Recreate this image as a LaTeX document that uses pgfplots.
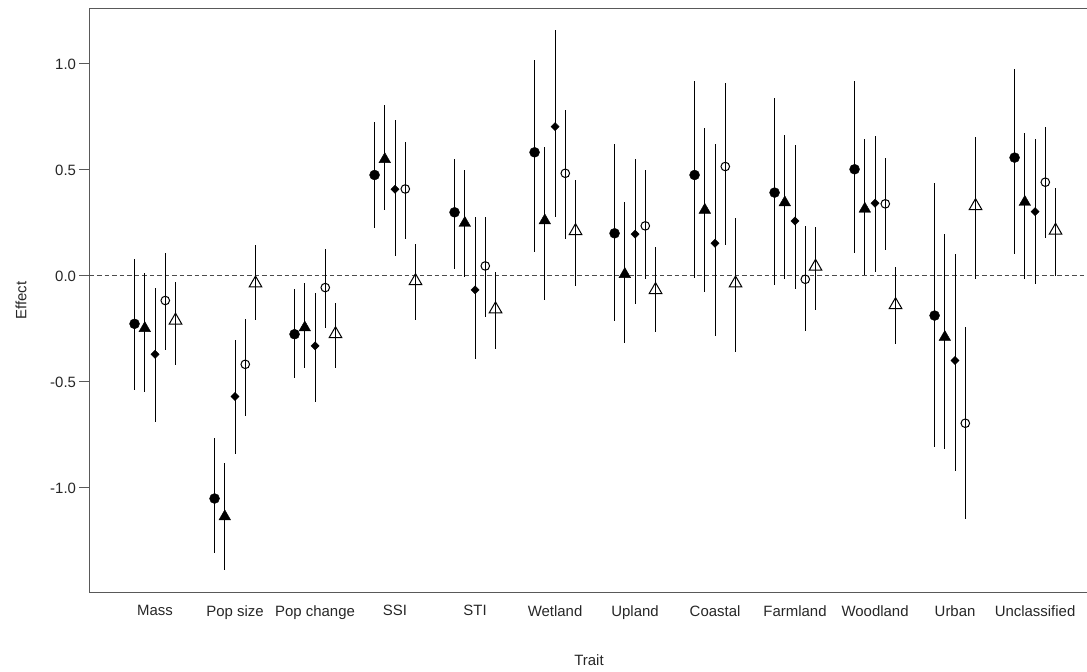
\documentclass[border=0pt]{standalone}
\usepackage{pgfplots}
\pgfplotsset{compat=1.18}
\usepackage{pgfplotstable}
\usepackage{fontspec}
\setmainfont{Liberation Sans}

% cat  y  lo  hi
\pgfplotstableread{
cat y lo hi
1 -0.226 -0.538 0.080
2 -1.050 -1.308 -0.763
3 -0.275 -0.483 -0.061
4 0.476 0.225 0.725
5 0.300 0.031 0.550
6 0.583 0.112 1.019
7 0.201 -0.215 0.623
8 0.476 -0.011 0.920
9 0.393 -0.042 0.838
10 0.503 0.107 0.920
11 -0.187 -0.805 0.437
12 0.558 0.102 0.975
}\sA
\pgfplotstableread{
cat y lo hi
1 -0.247 -0.546 0.013
2 -1.135 -1.387 -0.884
3 -0.244 -0.436 -0.035
4 0.550 0.311 0.807
5 0.249 -0.003 0.500
6 0.261 -0.113 0.610
7 0.008 -0.318 0.350
8 0.311 -0.074 0.697
9 0.346 -0.016 0.665
10 0.316 0.005 0.645
11 -0.289 -0.815 0.198
12 0.348 -0.016 0.673
}\sB
\pgfplotstableread{
cat y lo hi
1 -0.370 -0.690 -0.055
2 -0.569 -0.840 -0.302
3 -0.330 -0.596 -0.079
4 0.409 0.096 0.736
5 -0.066 -0.393 0.277
6 0.704 0.277 1.160
7 0.197 -0.132 0.550
8 0.154 -0.283 0.623
9 0.259 -0.063 0.618
10 0.343 0.020 0.660
11 -0.399 -0.918 0.104
12 0.303 -0.039 0.648
}\sC
\pgfplotstableread{
cat y lo hi
1 -0.116 -0.349 0.107
2 -0.417 -0.659 -0.203
3 -0.055 -0.244 0.126
4 0.410 0.175 0.630
5 0.047 -0.192 0.280
6 0.484 0.173 0.783
7 0.236 -0.015 0.500
8 0.516 0.146 0.909
9 -0.016 -0.259 0.237
10 0.340 0.123 0.558
11 -0.695 -1.146 -0.242
12 0.442 0.181 0.703
}\sD
\pgfplotstableread{
cat y lo hi
1 -0.210 -0.420 -0.030
2 -0.035 -0.210 0.146
3 -0.274 -0.436 -0.126
4 -0.024 -0.210 0.150
5 -0.157 -0.346 0.017
6 0.212 -0.047 0.453
7 -0.066 -0.263 0.138
8 -0.035 -0.357 0.272
9 0.044 -0.160 0.233
10 -0.137 -0.322 0.041
11 0.330 -0.016 0.657
12 0.214 0.000 0.414
}\sE

\begin{document}
\begin{tikzpicture}
\begin{axis}[
  scale only axis, width=999bp, height=583bp,
  xmin=0.181, xmax=12.668, ymin=-1.491, ymax=1.259,
  axis line style={color=black!65, line width=1bp},
  xtick={1,...,12},
  xticklabels={Mass,Pop size,Pop change,SSI,STI,Wetland,Upland,Coastal,Farmland,Woodland,Urban,Unclassified},
  x tick style={draw=none},
  ytick={-1,-0.5,0,0.5,1},
  yticklabel style={/pgf/number format/.cd, fixed, fixed zerofill, precision=1, assume math mode=true},
  ytick pos=left, tick align=outside, major tick length=10bp,
  y tick style={color=black!65, line width=1bp},
  tick label style={font=\fontsize{15}{18}\selectfont, text=black!85},
  xlabel={Trait}, ylabel={Effect},
  every axis x label/.style={at={(axis description cs:0.5,-0.1166)}, anchor=center,
     font=\fontsize{15}{18}\selectfont, text=black!85},
  every axis y label/.style={at={(axis description cs:-0.0686,0.5)}, anchor=center, rotate=90,
     font=\fontsize{15}{18}\selectfont, text=black!85},
  clip=false,
  error bars/y dir=both, error bars/y explicit,
  error bars/error mark=none,
  error bars/error bar style={black, line width=1bp},
]
\addplot[black!70, line width=1bp, dash pattern=on 4.5bp off 3bp, forget plot,
  error bars/y dir=none] coordinates {(0.181,0) (12.668,0)};

\addplot[only marks, mark=*, mark size=5bp, black]
  table[x expr=\thisrow{cat}-0.256, y=y,
        y error plus expr=\thisrow{hi}-\thisrow{y},
        y error minus expr=\thisrow{y}-\thisrow{lo}] {\sA};
\addplot[only marks, mark=triangle*, mark size=6.7bp, black]
  table[x expr=\thisrow{cat}-0.128, y=y,
        y error plus expr=\thisrow{hi}-\thisrow{y},
        y error minus expr=\thisrow{y}-\thisrow{lo}] {\sB};
\addplot[only marks, mark=square*, mark size=2.9bp, black, mark options={rotate=45}]
  table[x expr=\thisrow{cat}, y=y,
        y error plus expr=\thisrow{hi}-\thisrow{y},
        y error minus expr=\thisrow{y}-\thisrow{lo}] {\sC};
\addplot[only marks, mark=o, mark size=4.3bp, black, mark options={fill=white, line width=1bp}]
  table[x expr=\thisrow{cat}+0.128, y=y,
        y error plus expr=\thisrow{hi}-\thisrow{y},
        y error minus expr=\thisrow{y}-\thisrow{lo}] {\sD};
\addplot[only marks, mark=triangle, mark size=7.3bp, black, mark options={fill=white, line width=1bp}]
  table[x expr=\thisrow{cat}+0.256, y=y,
        y error plus expr=\thisrow{hi}-\thisrow{y},
        y error minus expr=\thisrow{y}-\thisrow{lo}] {\sE};
\end{axis}
\pgfresetboundingbox
\path ([shift={(-89.5bp,-79bp)}]current axis.south west) rectangle ([shift={(-1.5bp,9bp)}]current axis.north east);
\end{tikzpicture}
\end{document}
